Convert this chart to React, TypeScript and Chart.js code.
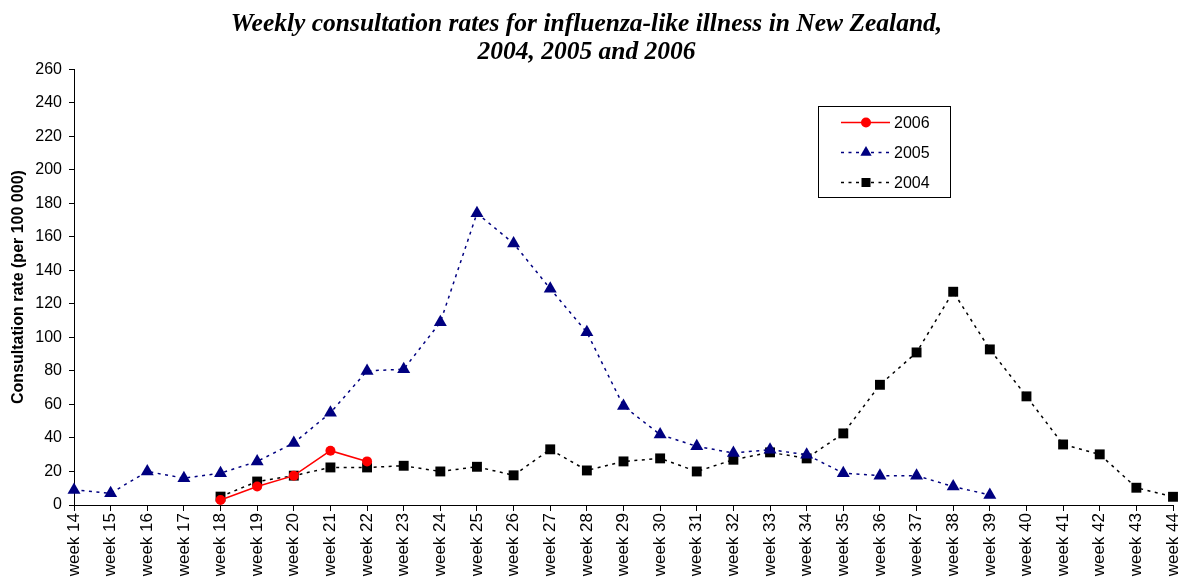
import React, { useEffect, useRef } from "react";
import { Chart, registerables } from "chart.js";

Chart.register(...registerables);

const weekLabels = [
  "week 14", "week 15", "week 16", "week 17", "week 18", "week 19", "week 20",
  "week 21", "week 22", "week 23", "week 24", "week 25", "week 26", "week 27",
  "week 28", "week 29", "week 30", "week 31", "week 32", "week 33", "week 34",
  "week 35", "week 36", "week 37", "week 38", "week 39", "week 40", "week 41",
  "week 42", "week 43", "week 44",
];

const rate2006 = [null, null, null, null, 3, 11, 17.5, 32.4, 26];

const rate2005 = [
  9, 7, 20, 16, 19, 26, 37, 55, 80, 81, 109, 174, 156, 129, 103, 59, 42, 35, 31,
  33, 30, 19, 17.5, 17.5, 11, 6,
];

const rate2004 = [
  null, null, null, null, 5, 14, 17.5, 22.4, 22.4, 23.4, 20, 22.8, 17.7, 33.2,
  20.6, 26, 27.8, 20, 27, 31.4, 27.8, 42.7, 71.7, 91, 127.2, 92.8, 64.8, 36.1,
  30.2, 10.3, 4.9,
];

const yTicks = [0, 20, 40, 60, 80, 100, 120, 140, 160, 180, 200, 220, 240, 260];

const titleLines = [
  "Weekly consultation rates for influenza-like illness in New Zealand,",
  "2004, 2005 and 2006",
];

const FONT = "'Liberation Sans', Arial, sans-serif";

function drawMarker(ctx: CanvasRenderingContext2D, style: string, x: number, y: number, r: number, color: string) {
  ctx.save();
  ctx.setLineDash([]);
  ctx.fillStyle = color;
  ctx.beginPath();
  if (style === "circle") {
    ctx.arc(x, y, r, 0, Math.PI * 2);
  } else if (style === "triangle") {
    for (let i = 0; i < 3; i++) {
      const a = (i * 2 * Math.PI) / 3;
      const px = x + Math.sin(a) * r;
      const py = y - Math.cos(a) * r;
      if (i === 0) ctx.moveTo(px, py);
      else ctx.lineTo(px, py);
    }
    ctx.closePath();
  } else {
    ctx.rect(x - r, y - r, 2 * r, 2 * r);
  }
  ctx.fill();
  ctx.restore();
}

const legendPlugin = {
  id: "boxLegend",
  afterDraw(chart: any) {
    const ctx: CanvasRenderingContext2D = chart.ctx;
    ctx.save();
    ctx.strokeStyle = "#000";
    ctx.lineWidth = 1;
    ctx.setLineDash([]);
    ctx.strokeRect(818.5, 106.5, 132, 91);
    const rows = [
      { i: 0, y: 122.5, style: "circle", r: 5 },
      { i: 1, y: 152.5, style: "triangle", r: 6.5 },
      { i: 2, y: 182.5, style: "rect", r: 4.5 },
    ];
    rows.forEach((row) => {
      const ds = chart.data.datasets[row.i];
      ctx.save();
      ctx.strokeStyle = ds.borderColor;
      ctx.lineWidth = ds.borderWidth;
      ctx.setLineDash(ds.borderDash || []);
      ctx.beginPath();
      ctx.moveTo(841, row.y);
      ctx.lineTo(890, row.y);
      ctx.stroke();
      ctx.restore();
      drawMarker(ctx, row.style, 866, row.y, row.r, ds.pointBackgroundColor);
      ctx.fillStyle = "#000";
      ctx.font = `16px ${FONT}`;
      ctx.textAlign = "left";
      ctx.textBaseline = "middle";
      ctx.fillText(ds.label, 894, row.y + 1);
    });
    ctx.restore();
  },
};

export default function App() {
  const canvasRef = useRef<HTMLCanvasElement | null>(null);

  useEffect(() => {
    document.body.style.margin = "0";
    const canvas = canvasRef.current;
    if (!canvas) return;
    const chart = new Chart(canvas, {
      type: "line",
      data: {
        labels: weekLabels,
        datasets: [
          {
            label: "2006",
            data: rate2006,
            borderColor: "#FF0000",
            backgroundColor: "#FF0000",
            pointBackgroundColor: "#FF0000",
            pointBorderColor: "#FF0000",
            borderWidth: 1.5,
            pointStyle: "circle",
            pointRadius: 5,
            pointBorderWidth: 0,
            tension: 0,
            spanGaps: false,
            fill: false,
          },
          {
            label: "2005",
            data: rate2005,
            borderColor: "#000080",
            backgroundColor: "#000080",
            pointBackgroundColor: "#000080",
            pointBorderColor: "#000080",
            borderWidth: 1.5,
            borderDash: [3, 4.5],
            pointStyle: "triangle",
            pointRadius: 7.5,
            pointBorderWidth: 0,
            tension: 0,
            fill: false,
          },
          {
            label: "2004",
            data: rate2004,
            borderColor: "#000000",
            backgroundColor: "#000000",
            pointBackgroundColor: "#000000",
            pointBorderColor: "#000000",
            borderWidth: 1.5,
            borderDash: [3, 4.5],
            pointStyle: "rect",
            pointRadius: 7,
            pointBorderWidth: 0,
            tension: 0,
            fill: false,
          },
        ],
      },
      options: {
        responsive: false,
        animation: false,
        layout: { padding: { left: 0, right: 9, top: 0, bottom: 0 } },
        plugins: {
          legend: { display: false },
          tooltip: { enabled: false },
          title: {
            display: true,
            text: titleLines,
            color: "#000",
            font: {
              family: "'Liberation Serif', 'Times New Roman', serif",
              size: 25.5,
              weight: "bold",
              style: "italic",
              lineHeight: 1.1,
            },
            padding: { top: 10, bottom: 3 },
          },
        },
        scales: {
          x: {
            type: "category",
            offset: false,
            grid: {
              display: true,
              drawOnChartArea: false,
              drawTicks: true,
              tickLength: 6,
              color: "#000",
            },
            border: { display: true, color: "#000", width: 1 },
            ticks: {
              autoSkip: false,
              maxRotation: 90,
              minRotation: 90,
              color: "#000",
              padding: 2,
              font: { family: FONT, size: 17 },
            },
            afterFit: (scale: any) => {
              scale.height = 73;
              scale.paddingLeft = 0;
              scale.paddingRight = 0;
            },
          },
          y: {
            min: 0,
            max: 260,
            afterBuildTicks: (scale: any) => {
              scale.ticks = yTicks.map((v) => ({ value: v }));
            },
            grid: {
              display: true,
              drawOnChartArea: false,
              drawTicks: true,
              tickLength: 5,
              color: "#000",
            },
            border: { display: true, color: "#000", width: 1 },
            ticks: {
              color: "#000",
              padding: 7,
              font: { family: FONT, size: 16 },
            },
            title: {
              display: true,
              text: "Consultation rate (per 100 000)",
              color: "#000",
              font: { family: FONT, size: 16, weight: "bold" },
              padding: { top: 9, bottom: 0 },
            },
            afterFit: (scale: any) => {
              scale.width = 74;
              scale.paddingTop = 0;
              scale.paddingBottom = 0;
            },
          },
        },
      },
      plugins: [legendPlugin],
    });
    return () => chart.destroy();
  }, []);

  return (
    <div style={{ width: 1182, height: 578 }}>
      <canvas ref={canvasRef} width={1182} height={578} />
    </div>
  );
}
